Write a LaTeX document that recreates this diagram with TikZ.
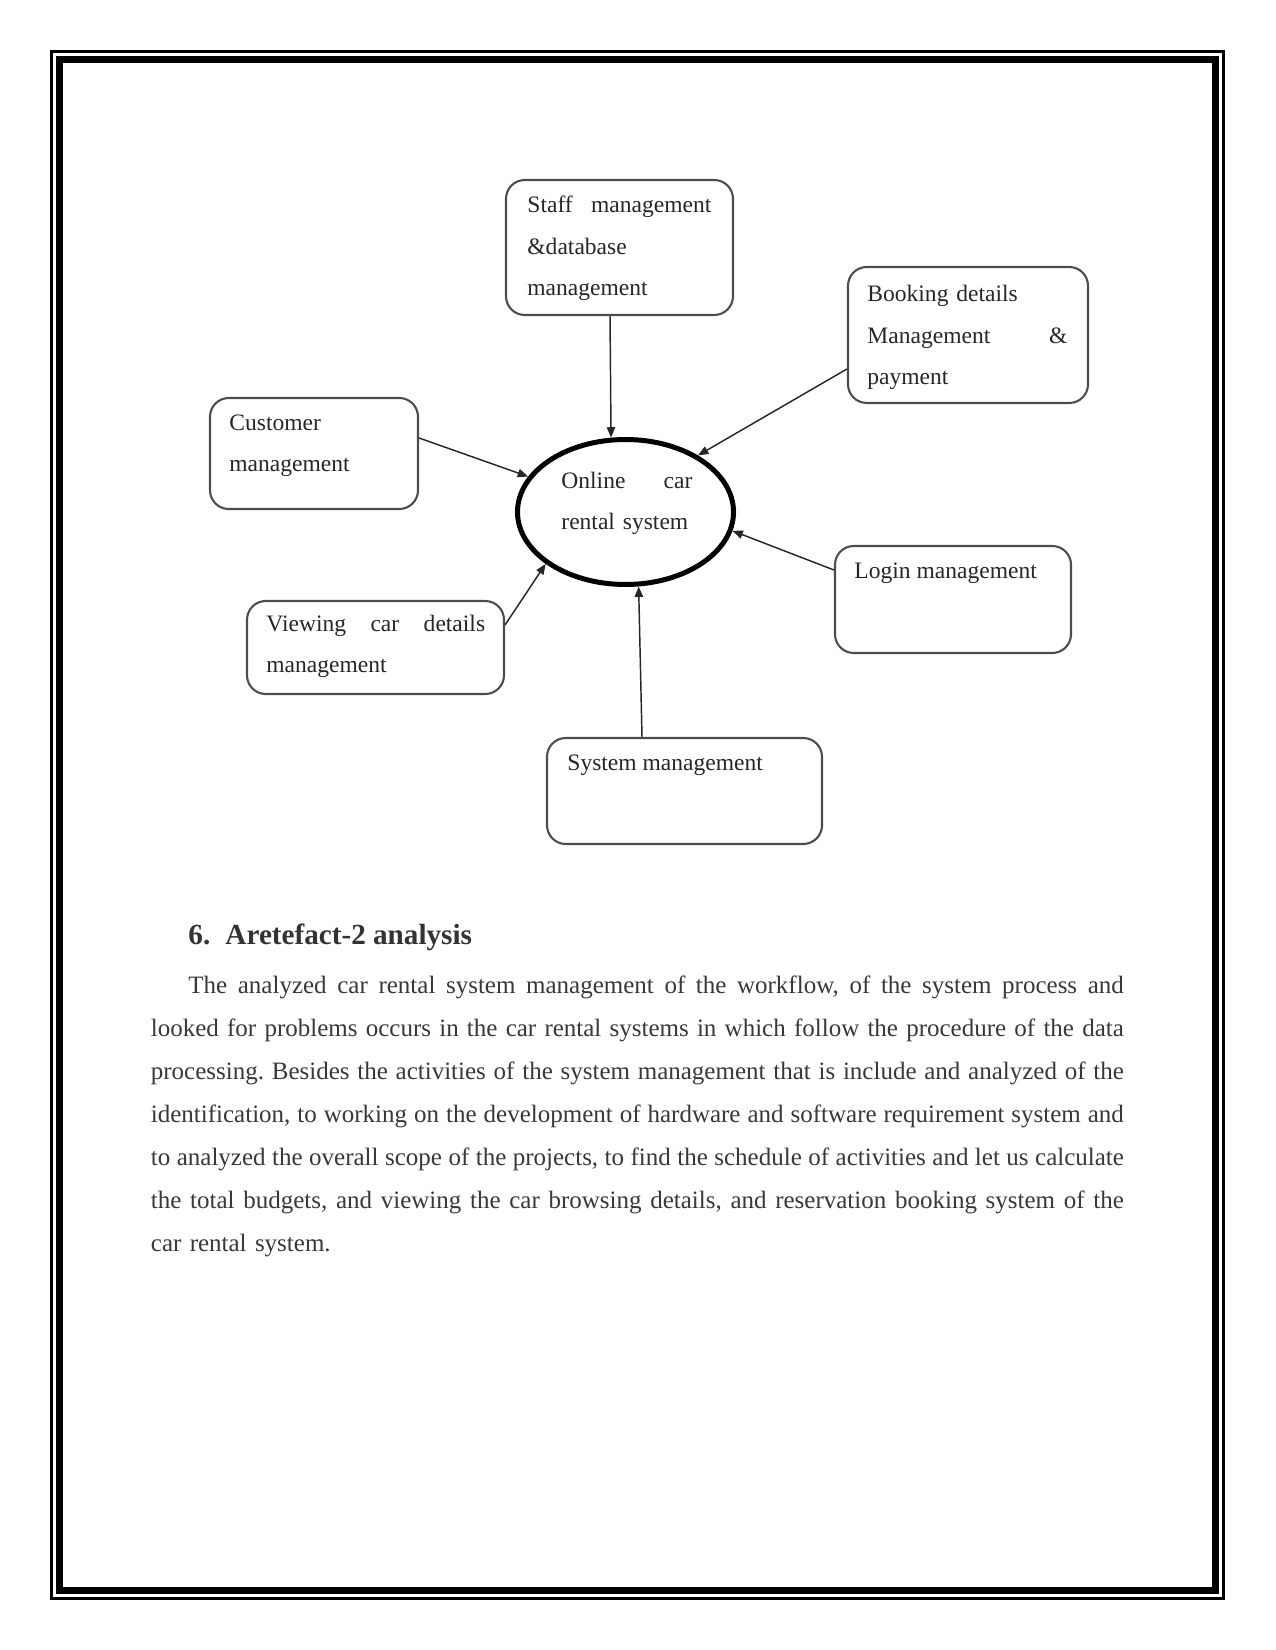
\documentclass[tikz,border=0pt]{standalone}
\usepackage{fontspec}
\setmainfont{Liberation Serif}
\usetikzlibrary{shapes.geometric,arrows.meta,calc,fit}
\newcommand\fullline[1]{\leavevmode\hbox to\hsize{\spaceskip=.25em plus 1fil minus .09em\xspaceskip=\spaceskip #1}}
\begin{document}
\begin{tikzpicture}[x=0.48pt,y=-0.48pt,
  mbox/.style={draw=black!70, line width=1pt, rounded corners=9pt, inner sep=0pt},
  dtext/.style={anchor=base west, inner sep=0pt, text=black!85, align=left,
    font=\fontsize{11.3}{19.7}\selectfont},
  conn/.style={draw=black!85, line width=0.7pt, -{Triangle[length=5pt,width=4pt]}},
  body/.style={anchor=base west, inner sep=0pt, text=black!78, align=left,
    font=\fontsize{12}{20.7}\selectfont\frenchspacing, text width=467pt}]
\useasboundingbox (0,0) rectangle (1275,1650);
% page border
\draw[line width=1.44pt] (51.5,51.5) rectangle (1223.5,1598.5);
\draw[line width=3.36pt] (59.5,59.5) rectangle (1215.5,1590.5);
% boxes
\node[mbox, fit={(506,180) (733,315)}] (staff) {};
\node[mbox, fit={(848,267) (1088,403)}] (book) {};
\node[mbox, fit={(210,398) (418,509)}] (cust) {};
\node[mbox, fit={(835,546) (1071,653)}] (login) {};
\node[mbox, fit={(247,601) (504,694)}] (view) {};
\node[mbox, fit={(547,738) (822,844)}] (sysm) {};
\node[ellipse, draw=black, line width=2.4pt, minimum width=103.7pt,
  minimum height=69.6pt, inner sep=0pt] (sys) at (625.5,512) {};
% texts
\node[dtext, text width=88.3pt] (stafft) at (527,213)
  {\fullline{Staff management}\\ \&database\\ management};
\node[dtext, text width=96pt] (bookt) at (867,302)
  {Booking details\\ \fullline{Management \&}\\ payment};
\node[dtext, text width=90pt] (custt) at (229,430)
  {Customer\\ management};
\node[dtext, text width=62.9pt] (syst) at (561,488)
  {\fullline{Online car}\\ rental system};
\node[dtext] (logint) at (854,578) {Login management};
\node[dtext, text width=105pt] (viewt) at (266,631)
  {\fullline{Viewing car details}\\ management};
\node[dtext] (sysmt) at (567,770) {System management};
% connectors
\draw[conn] ($(staff.south)+(-9.5,0)$) -- (sys.101.8);
\draw[conn] ($(book.west)+(0,34)$) -- (sys.38.1);
\draw[conn] ($(cust.east)+(0,-15.5)$) -- (sys.160);
\draw[conn] ($(login.west)+(0,-29.5)$) -- (sys.-10.5);
\draw[conn] ($(view.east)+(0,-22.5)$) -- (sys.-147);
\draw[conn] ($(sysm.north)+(-42.5,0)$) -- (sys.-80.5);
% heading
\node[anchor=base west, inner sep=0pt, text=black!80,
  font=\fontsize{14}{16}\selectfont\bfseries] (head) at (188,944)
  {\makebox[17.8pt][l]{6.}Aretefact-2 analysis};
% paragraph
\node[body] (para) at (150.5,993) {%
\fullline{\hskip18pt The analyzed car rental system management of the workflow, of the system process and}\\
\fullline{looked for problems occurs in the car rental systems in which follow the procedure of the data}\\
\fullline{processing. Besides the activities of the system management that is include and analyzed of the}\\
\fullline{identification, to working on the development of hardware and software requirement system and}\\
\fullline{to analyzed the overall scope of the projects, to find the schedule of activities and let us calculate}\\
\fullline{the total budgets, and viewing the car browsing details, and reservation booking system of the}\\
car rental system.};
\end{tikzpicture}
\end{document}
